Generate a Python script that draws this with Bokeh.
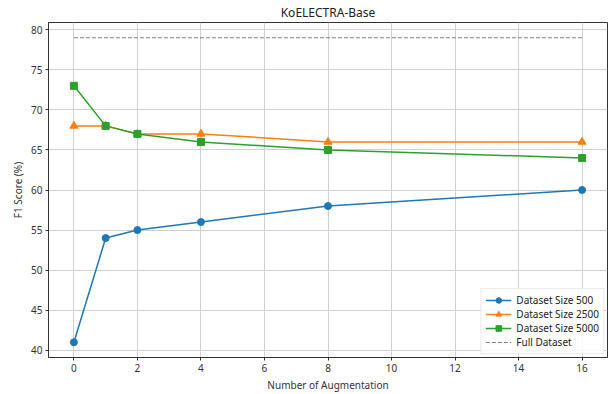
from bokeh.plotting import figure
from bokeh.models import Legend, LegendItem, FixedTicker, Range1d
from bokeh.embed import file_html
from bokeh.resources import INLINE

augment = [0, 1, 2, 4, 8, 16]
size_500 = [41, 54, 55, 56, 58, 60]
size_2500 = [68, 68, 67, 67, 66, 66]
size_5000 = [73, 68, 67, 66, 65, 64]
full_dataset = 79
x_ticks = [0, 2, 4, 6, 8, 10, 12, 14, 16]
y_ticks = [40, 45, 50, 55, 60, 65, 70, 75, 80]

FONT = "Noto Sans"

p = figure(width=609, height=394, output_backend="svg", toolbar_location=None,
           x_range=Range1d(-0.8, 16.8), y_range=Range1d(39.1, 80.9),
           title="KoELECTRA-Base",
           min_border_left=48, min_border_right=2, min_border_top=5, min_border_bottom=30)

p.title.align = "center"
p.title.text_font = FONT
p.title.text_font_size = "12px"
p.title.text_font_style = "normal"
p.title.text_color = "#222222"
p.title.standoff = 3
p.title.offset = 0

p.outline_line_color = "#333333"
p.outline_line_width = 1

for ax in (p.xaxis[0], p.yaxis[0]):
    ax.major_label_text_font = FONT
    ax.major_label_text_font_size = "10px"
    ax.major_label_text_color = "#333333"
    ax.axis_label_text_font = FONT
    ax.axis_label_text_font_size = "10px"
    ax.axis_label_text_font_style = "normal"
    ax.axis_label_text_color = "#333333"
    ax.minor_tick_line_color = None
    ax.major_tick_out = 3
    ax.major_tick_in = 0
    ax.axis_line_color = "#333333"
    ax.major_tick_line_color = "#333333"
    ax.axis_label_standoff = 3
    ax.major_label_standoff = 3

p.xaxis.ticker = FixedTicker(ticks=x_ticks)
p.yaxis.ticker = FixedTicker(ticks=y_ticks)
p.xaxis.axis_label = "Number of Augmentation"
p.yaxis.axis_label = "F1 Score (%)"

p.xgrid.ticker = FixedTicker(ticks=x_ticks)
p.ygrid.ticker = FixedTicker(ticks=y_ticks)
p.grid.grid_line_color = "#d0d0d0"
p.grid.grid_line_width = 1

items = []
series = [(size_500, "#1f77b4", "circle", "Dataset Size 500", 7),
          (size_2500, "#ff7f0e", "triangle", "Dataset Size 2500", 8),
          (size_5000, "#2ca02c", "square", "Dataset Size 5000", 7)]
for ys, col, mk, lab, sz in series:
    l = p.line(augment, ys, line_color=col, line_width=1.5)
    s = p.scatter(augment, ys, marker=mk, size=sz, fill_color=col, line_color=col)
    items.append(LegendItem(label=lab, renderers=[l, s]))

fl = p.line([augment[0], augment[-1]], [full_dataset, full_dataset],
            line_color="#808080", line_width=1.2, line_dash="4 2")
items.append(LegendItem(label="Full Dataset", renderers=[fl]))

legend = Legend(items=items, location="bottom_right")
legend.label_text_font = FONT
legend.label_text_font_size = "10px"
legend.label_text_color = "#222222"
legend.border_line_color = "#d8d8d8"
legend.background_fill_alpha = 0.85
legend.spacing = 0
legend.padding = 4
legend.margin = 3
legend.glyph_height = 14
legend.label_height = 14
legend.glyph_width = 26
p.add_layout(legend)

open("out.html", "w").write(file_html(p, INLINE))
